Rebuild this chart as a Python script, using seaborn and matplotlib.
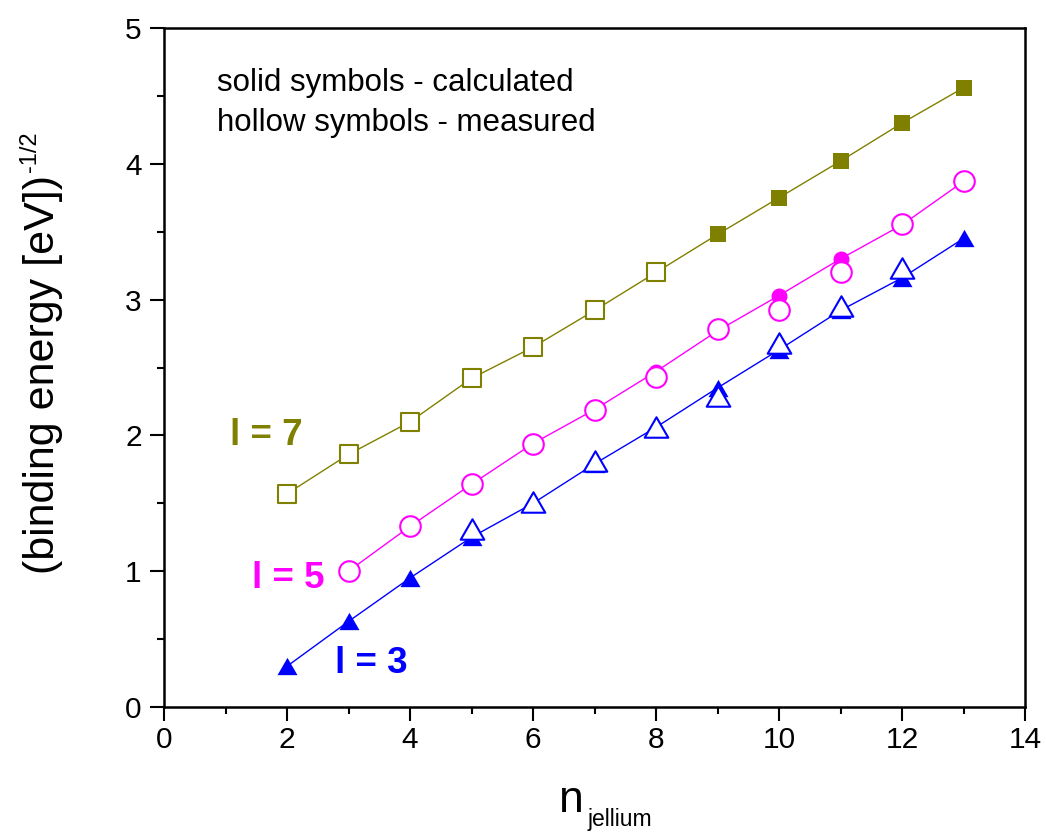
import matplotlib
matplotlib.use("Agg")
import matplotlib.pyplot as plt
import seaborn as sns
from matplotlib.path import Path
from matplotlib.ticker import MultipleLocator

# ---- data: (binding energy)^(-1/2) versus jellium shell index ----
# l = 7
n_l7_calc = [2, 3, 4, 5, 6, 7, 8, 9, 10, 11, 12, 13]
be_l7_calc = [1.57, 1.86, 2.10, 2.42, 2.65, 2.92, 3.20, 3.48, 3.75, 4.02, 4.30, 4.56]
n_l7_meas = [2, 3, 4, 5, 6, 7, 8]
be_l7_meas = [1.57, 1.86, 2.10, 2.42, 2.65, 2.92, 3.20]

# l = 5
n_l5_calc = [3, 4, 5, 6, 7, 8, 9, 10, 11, 12, 13]
be_l5_calc = [1.00, 1.33, 1.64, 1.94, 2.19, 2.47, 2.77, 3.03, 3.30, 3.55, 3.87]
n_l5_meas = [3, 4, 5, 6, 7, 8, 9, 10, 11, 12, 13]
be_l5_meas = [1.00, 1.33, 1.64, 1.94, 2.19, 2.43, 2.78, 2.92, 3.20, 3.56, 3.87]

# l = 3
n_l3_calc = [2, 3, 4, 5, 6, 7, 8, 9, 10, 11, 12, 13]
be_l3_calc = [0.30, 0.63, 0.95, 1.25, 1.50, 1.79, 2.06, 2.35, 2.63, 2.92, 3.16, 3.45]
n_l3_meas = [5, 6, 7, 8, 9, 10, 11, 12]
be_l3_meas = [1.31, 1.51, 1.81, 2.06, 2.29, 2.68, 2.95, 3.23]

OLIVE = "#808000"
MAGENTA = "#FF00FF"
BLUE = "#0000FF"

sns.set_style("ticks")
plt.rcParams["font.family"] = ["Liberation Sans", "DejaVu Sans"]
plt.rcParams["text.color"] = "black"
plt.rcParams["axes.labelcolor"] = "black"
plt.rcParams["xtick.color"] = "black"
plt.rcParams["ytick.color"] = "black"

W, H = 1046, 832
fig = plt.figure(figsize=(W / 100, H / 100), dpi=100)
ax = fig.add_axes([164 / W, 1 - 707 / H, (1025 - 164) / W, (707 - 28) / H])

# equilateral triangle marker
tri = Path([(-1, -0.866), (1, -0.866), (0, 0.866), (-1, -0.866)], closed=True)

series = [
    (n_l7_calc, be_l7_calc, n_l7_meas, be_l7_meas, OLIVE, "s", 11.5, 13.4),
    (n_l5_calc, be_l5_calc, n_l5_meas, be_l5_meas, MAGENTA, "o", 11.5, 14.8),
    (n_l3_calc, be_l3_calc, n_l3_meas, be_l3_meas, BLUE, tri, 14.4, 17.0),
]

for nc, bc, nm, bm, col, mk, s_solid, s_hollow in series:
    sns.lineplot(x=nc, y=bc, color=col, linewidth=1.0, ax=ax, zorder=2)
    sns.scatterplot(x=nc, y=bc, marker=mk, s=s_solid ** 2, color=col,
                    edgecolor=col, linewidth=0, ax=ax, zorder=3)
    sns.scatterplot(x=nm, y=bm, marker=mk, s=s_hollow ** 2, color="white",
                    edgecolor=col, linewidth=1.5, ax=ax, zorder=4)

ax.set_xlim(0, 14)
ax.set_ylim(0, 5)
ax.xaxis.set_major_locator(MultipleLocator(2))
ax.xaxis.set_minor_locator(MultipleLocator(1))
ax.yaxis.set_major_locator(MultipleLocator(1))
ax.yaxis.set_minor_locator(MultipleLocator(0.5))
ax.tick_params(which="both", direction="out", width=1.5, colors="black",
               top=False, right=False, labelsize=21.5)
ax.tick_params(which="major", length=10)
ax.tick_params(which="minor", length=5)
ax.tick_params(axis="x", pad=4)
ax.tick_params(axis="y", pad=6)
for sp in ax.spines.values():
    sp.set_visible(True)
    sp.set_linewidth(1.8)
    sp.set_color("black")
ax.set_xlabel("")
ax.set_ylabel("")

# axis titles
fig.text(43 / W, 1 - 374 / H, "(binding energy [eV])", rotation=90,
         ha="center", va="center", fontsize=31)
fig.text(30 / W, 1 - 152 / H, "-1/2", rotation=90,
         ha="center", va="center", fontsize=17)
fig.text(559 / W, 1 - 812 / H, "n", ha="left", va="baseline", fontsize=32)
fig.text(588 / W, 1 - 826 / H, "jellium", ha="left", va="baseline", fontsize=16.5)

# notes and series labels
ax.text(0.0616, 0.907, "solid symbols - calculated", transform=ax.transAxes,
        ha="left", va="baseline", fontsize=22.5)
ax.text(0.0616, 0.848, "hollow symbols - measured", transform=ax.transAxes,
        ha="left", va="baseline", fontsize=22.5)
ax.text(1.67, 1.93, "l = 7", color=OLIVE, fontsize=26.5, fontweight="bold",
        ha="center", va="baseline")
ax.text(2.02, 0.876, "l = 5", color=MAGENTA, fontsize=26.5, fontweight="bold",
        ha="center", va="baseline")
ax.text(3.37, 0.25, "l = 3", color=BLUE, fontsize=26.5, fontweight="bold",
        ha="center", va="baseline")

fig.savefig("out.png", dpi=100)
